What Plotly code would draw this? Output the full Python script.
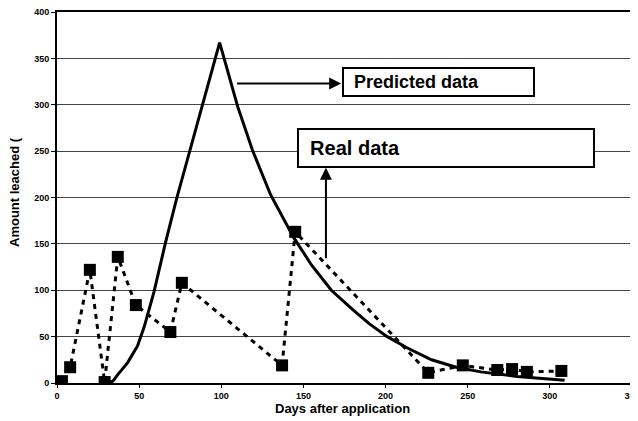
import plotly.graph_objects as go

# Predicted data (smooth model curve)
pred_days = [30, 34, 37, 43, 49, 53, 59, 66, 73, 81, 90, 99, 110, 119, 130, 144, 155, 167, 180, 190, 201, 213, 228, 243, 258, 280, 309]
pred_vals = [0, 2, 9, 22, 40, 60, 98, 151, 200, 251, 309, 367, 298, 251, 203, 157, 127, 100, 79, 64, 50, 38, 25, 17, 12, 7, 3]

# Real (measured) data
real_days = [3, 8, 20, 29, 37, 48, 69, 76, 137, 145, 226, 247, 268, 277, 286, 307]
real_vals = [2, 17, 122, 1, 136, 84, 55, 108, 19, 163, 11, 19, 14, 15, 12, 13]

x_ticks = [0, 50, 100, 150, 200, 250, 300, 350]
y_ticks = [0, 50, 100, 150, 200, 250, 300, 350, 400]

FONT = "Liberation Sans"

fig = go.Figure()
fig.add_trace(go.Scatter(
    x=real_days, y=real_vals, mode="lines+markers",
    line=dict(color="black", width=3, dash="5px,5px"),
    marker=dict(symbol="square", size=12, color="black"),
    showlegend=False))
fig.add_trace(go.Scatter(
    x=pred_days, y=pred_vals, mode="lines",
    line=dict(color="black", width=3),
    showlegend=False))

# Label boxes and arrows
pred_box = dict(x=232, y=324.5, w=189, h=26)
real_box = dict(x=236.5, y=253, w=294, h=36)
pred_arrow = dict(x=173, y=323, ax=108.7, ay=323)
real_arrow = dict(x=163.7, y=232, ax=163.7, ay=133)

fig.add_annotation(x=pred_box["x"], y=pred_box["y"], xref="x", yref="y",
                   text="\u00a0\u00a0Predicted data", showarrow=False,
                   width=pred_box["w"], height=pred_box["h"], align="left",
                   bordercolor="black", borderwidth=2, borderpad=0, bgcolor="white",
                   font=dict(family=FONT, size=18, color="black", weight="bold"))
fig.add_annotation(x=real_box["x"], y=real_box["y"], xref="x", yref="y",
                   text="\u00a0\u00a0Real data", showarrow=False,
                   width=real_box["w"], height=real_box["h"], align="left",
                   bordercolor="black", borderwidth=2, borderpad=0, bgcolor="white",
                   font=dict(family=FONT, size=20, color="black", weight="bold"))
for a in (pred_arrow, real_arrow):
    fig.add_annotation(x=a["x"], y=a["y"], ax=a["ax"], ay=a["ay"],
                       xref="x", yref="y", axref="x", ayref="y",
                       text="", showarrow=True, arrowhead=2, arrowsize=1.2,
                       arrowwidth=2, arrowcolor="black", standoff=0)

# Axis titles
fig.add_annotation(x=-0.073, y=0.515, xref="paper", yref="paper",
                   xanchor="center", yanchor="middle",
                   text="Amount leached (", textangle=-90, showarrow=False,
                   font=dict(family=FONT, size=13, color="black", weight="bold"))
fig.add_annotation(x=0.497, y=-0.0674, xref="paper", yref="paper",
                   xanchor="center", yanchor="middle",
                   text="Days after application", showarrow=False,
                   font=dict(family=FONT, size=13, color="black", weight="bold"))

fig.update_xaxes(range=[0, 350], tickvals=x_ticks, ticktext=[str(v) for v in x_ticks],
                 showgrid=False, zeroline=False, showline=True, linecolor="black",
                 linewidth=2, mirror=True, ticks="outside", ticklen=3, tickcolor="black",
                 automargin=False, ticklabeloverflow="allow",
                 tickfont=dict(family=FONT, size=9, color="black", weight="bold"))
fig.update_yaxes(range=[0, 400], tickvals=y_ticks, ticktext=[str(v) for v in y_ticks],
                 showgrid=True, gridcolor="#444444", gridwidth=1, zeroline=False,
                 showline=True, linecolor="black", linewidth=2, mirror=True,
                 ticks="outside", ticklen=4, tickcolor="black", automargin=False,
                 ticklabeloverflow="allow",
                 tickfont=dict(family=FONT, size=9, color="black", weight="bold"))

# The page body adds an 8px offset; margins compensate so the plot lands where the reference has it
fig.update_layout(width=638, height=421, margin=dict(l=49, r=14, t=4, b=46),
                  plot_bgcolor="white", paper_bgcolor="white")

fig.write_html("out.html")
